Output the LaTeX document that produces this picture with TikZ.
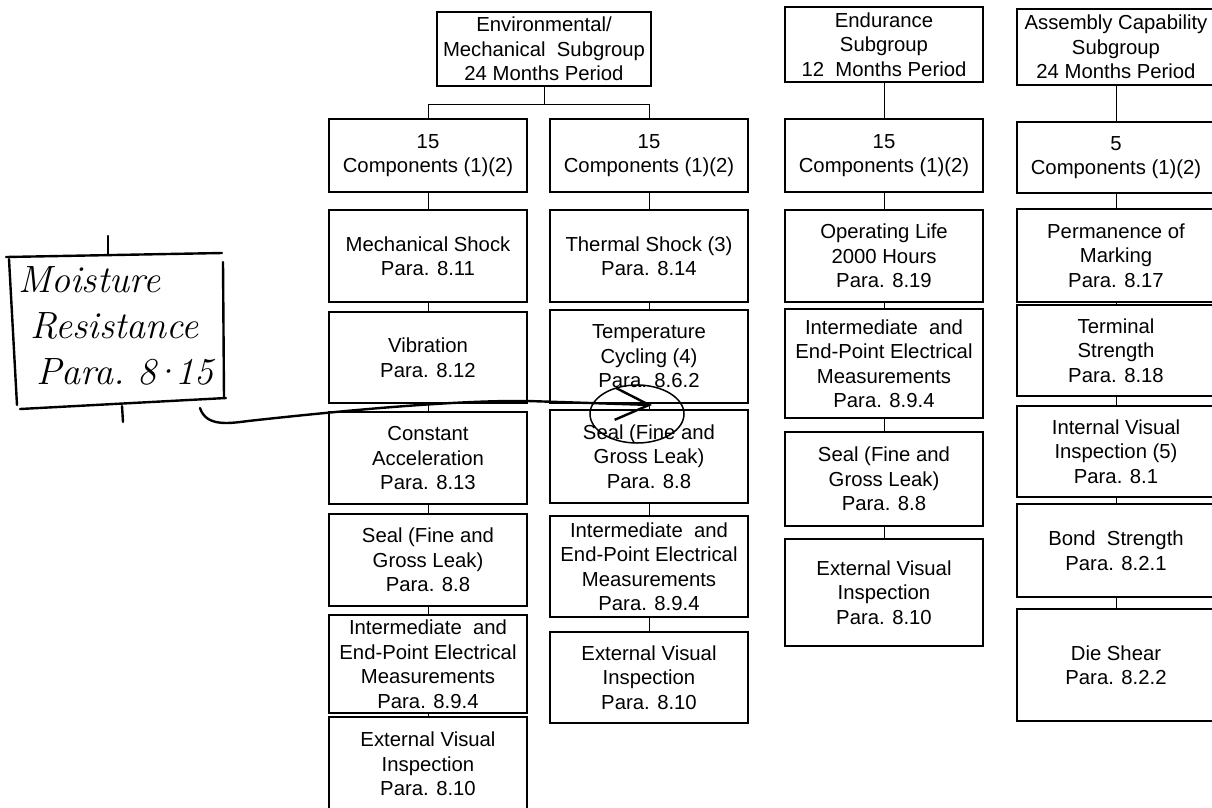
\documentclass[tikz,border=0pt]{standalone}
\usepackage{fontspec}
\usepackage{tikz}
\usetikzlibrary{arrows.meta}
\newfontfamily\arialfont{Liberation Sans}

\begin{document}
\begin{tikzpicture}[x=1pt,y=-1pt,
		box/.style={draw,line width=1.4pt,minimum width=198pt,inner sep=0pt,align=center,
			font=\arialfont\fontsize{20.3}{24.5}\selectfont},
		link/.style={line width=1pt},
		hand/.style={line width=2.4pt,line cap=round,line join=round}]
		\clip (0,0) rectangle (1212,807);
%		\draw[help lines,step=100] (0,0) grid (1212,807);

		% subgroup heads
		\node (env) [box,minimum width=214pt,minimum height=74pt] at (544,49) {Environmental/\\Mechanical\ \ Subgroup\\24 Months Period};
		\node (end_head) [box,minimum height=75pt] at (884,44.5) {Endurance\\Subgroup\\12\ \ Months Period};
		\node (asm_head) [box,minimum height=76pt] at (1116,47) {Assembly Capability\\Subgroup\\24 Months Period};

		% environmental/mechanical, left branch
		\node (c1_comp) [box,minimum height=73pt] at (428,155.5) {15\\Components (1)(2)};
		\node (c1_mech) [box,minimum height=92pt] at (428,256) {Mechanical Shock\\Para. 8.11};
		\node (c1_vib) [box,minimum height=91pt] at (428,357.5) {Vibration\\Para. 8.12};
		\node (c1_acc) [box,minimum height=92pt] at (428,458) {Constant\\Acceleration\\Para. 8.13};
		\node (c1_seal) [box,minimum height=92pt] at (428,560) {Seal (Fine and\\Gross Leak)\\Para. 8.8};
		\node (c1_meas) [box,minimum height=98pt] at (428,664) {Intermediate\ \ and\\End-Point Electrical\\Measurements\\Para. 8.9.4};
		\node (c1_ext) [box,minimum height=94pt] at (428,764) {External Visual\\Inspection\\Para. 8.10};

		% environmental/mechanical, right branch
		\node (c2_comp) [box,minimum height=73pt] at (649,155.5) {15\\Components (1)(2)};
		\node (c2_therm) [box,minimum height=92pt] at (649,256) {Thermal Shock (3)\\Para. 8.14};
		\node (c2_cyc) [box,minimum height=93pt] at (649,356.5) {Temperature\\Cycling (4)\\Para. 8.6.2};
		\node (c2_seal) [box,minimum height=93pt] at (649,456.5) {Seal (Fine and\\Gross Leak)\\Para. 8.8};
		\node (c2_meas) [box,minimum height=101pt] at (649,566.5) {Intermediate\ \ and\\End-Point Electrical\\Measurements\\Para. 8.9.4};
		\node (c2_ext) [box,minimum height=91pt] at (649,677.5) {External Visual\\Inspection\\Para. 8.10};

		% endurance
		\node (c3_comp) [box,minimum height=73pt] at (884,155.5) {15\\Components (1)(2)};
		\node (c3_life) [box,minimum height=92pt] at (884,256) {Operating Life\\2000 Hours\\Para. 8.19};
		\node (c3_meas) [box,minimum height=109pt] at (884,363.5) {Intermediate\ \ and\\End-Point Electrical\\Measurements\\Para. 8.9.4};
		\node (c3_seal) [box,minimum height=94pt] at (884,479) {Seal (Fine and\\Gross Leak)\\Para. 8.8};
		\node (c3_ext) [box,minimum height=107pt] at (884,592.5) {External Visual\\Inspection\\Para. 8.10};

		% assembly capability
		\node (c4_comp) [box,minimum height=71pt] at (1116,157.5) {5\\Components (1)(2)};
		\node (c4_mark) [box,minimum height=93pt] at (1116,255.5) {Permanence of\\Marking\\Para. 8.17};
		\node (c4_term) [box,minimum height=91pt] at (1116,350.5) {Terminal\\Strength\\Para. 8.18};
		\node (c4_ivis) [box,minimum height=91pt] at (1116,451.5) {Internal Visual\\Inspection (5)\\Para. 8.1};
		\node (c4_bond) [box,minimum height=93pt] at (1116,550.5) {Bond\ \ Strength\\Para. 8.2.1};
		\node (c4_die) [box,minimum height=112pt] at (1116,665) {Die Shear\\Para. 8.2.2};

		% connectors
		\draw[link] (env.south) -- ++(0,18) coordinate (env_split);
		\draw[link] (env_split) -| (c1_comp.north);
		\draw[link] (env_split) -| (c2_comp.north);
		\draw[link] (c1_comp) -- (c1_mech);
		\draw[link] (c1_mech) -- (c1_vib);
		\draw[link] (c1_vib) -- (c1_acc);
		\draw[link] (c1_acc) -- (c1_seal);
		\draw[link] (c1_seal) -- (c1_meas);
		\draw[link] (c1_meas) -- (c1_ext);
		\draw[link] (c2_comp) -- (c2_therm);
		\draw[link] (c2_therm) -- (c2_cyc);
		\draw[link] (c2_cyc) -- (c2_seal);
		\draw[link] (c2_seal) -- (c2_meas);
		\draw[link] (c2_meas) -- (c2_ext);
		\draw[link] (end_head) -- (c3_comp);
		\draw[link] (c3_comp) -- (c3_life);
		\draw[link] (c3_life) -- (c3_meas);
		\draw[link] (c3_meas) -- (c3_seal);
		\draw[link] (c3_seal) -- (c3_ext);
		\draw[link] (asm_head) -- (c4_comp);
		\draw[link] (c4_comp) -- (c4_mark);
		\draw[link] (c4_mark) -- (c4_term);
		\draw[link] (c4_term) -- (c4_ivis);
		\draw[link] (c4_ivis) -- (c4_bond);
		\draw[link] (c4_bond) -- (c4_die);

		% hand-written insert
		\node (moist) [anchor=north west,inner sep=0pt,align=left,
			font=\itshape\fontsize{38}{46}\selectfont] at (18,266)
			{Moisture\\\hspace*{12pt}Resistance\\\hspace*{18pt}Para.\ 8\kern-5pt·\kern-5pt15};
		\draw[hand] (6,257) -- (222,253);
		\draw[hand] (223,262) -- (224,398);
		\draw[hand] (20,409) -- (226,398);
		\draw[hand] (9,259) -- (17,405);
		\draw[hand] (108,236) -- (108,255);
		\draw[hand] (122,406) -- (123,422);

		\path (200,408) coordinate (moist_tail);
		\path (652,405) coordinate (seal_mark);
		\draw[hand,-{Straight Barb[length=34pt,width=32pt]}] (moist_tail)
			.. controls (206,426) and (226,424) .. (248,421)
			.. controls (330,412) and (450,400) .. (528,401) -- (seal_mark);
		\draw[hand,line width=1.5pt] (637,414) ellipse [x radius=47, y radius=29];
	\end{tikzpicture}
\end{document}
